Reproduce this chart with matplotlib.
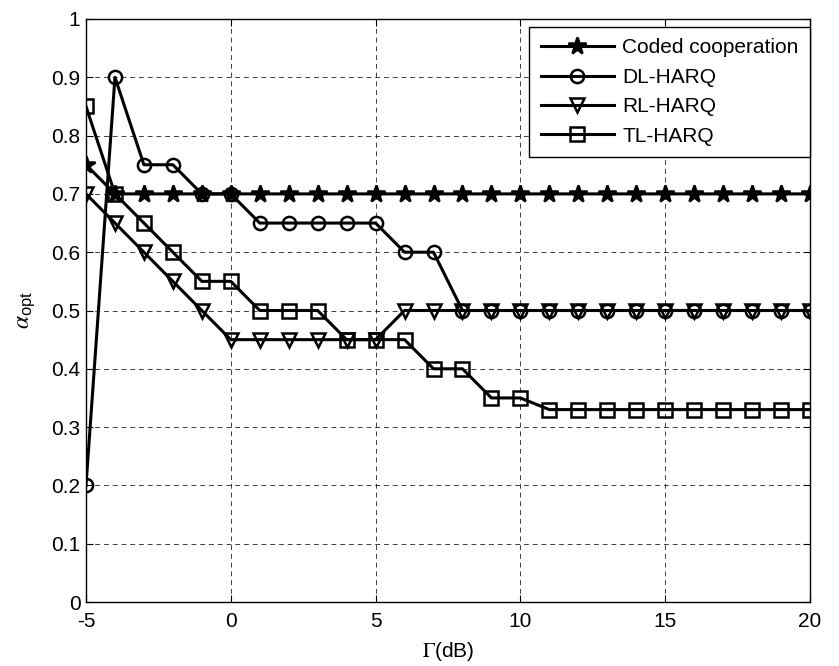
import matplotlib
matplotlib.use("Agg")
import matplotlib.pyplot as plt

x = list(range(-5, 21))
coded = [0.75] + [0.7] * 25
dl_harq = [0.2, 0.9, 0.75, 0.75, 0.7, 0.7, 0.65, 0.65, 0.65, 0.65, 0.65, 0.6, 0.6] + [0.5] * 13
rl_harq = [0.7, 0.65, 0.6, 0.55, 0.5, 0.45, 0.45, 0.45, 0.45, 0.45, 0.45] + [0.5] * 15
tl_harq = [0.85, 0.7, 0.65, 0.6, 0.55, 0.55, 0.5, 0.5, 0.5, 0.45, 0.45, 0.45, 0.4, 0.4, 0.35, 0.35] + [0.33] * 10
labels = ["Coded cooperation", "DL-HARQ", "RL-HARQ", "TL-HARQ"]
xticks = [-5, 0, 5, 10, 15, 20]
yticks = [0, 0.1, 0.2, 0.3, 0.4, 0.5, 0.6, 0.7, 0.8, 0.9, 1]

plt.rcParams['font.family'] = ['Liberation Sans', 'DejaVu Sans']
plt.rcParams['mathtext.fontset'] = 'stix'

fig = plt.figure(figsize=(8.39, 6.66), dpi=100)
ax = fig.add_axes([86/839, 1 - 602/666, (810 - 86)/839, (602 - 19)/666])

lw = 2.2
common = dict(color='black', linewidth=lw, markeredgewidth=1.8, markeredgecolor='black')
ax.plot(x, coded, marker='*', markersize=13, markerfacecolor='black', label=labels[0], **common)
ax.plot(x, dl_harq, marker='o', markersize=9.5, markerfacecolor='none', label=labels[1], **common)
ax.plot(x, rl_harq, marker='v', markersize=10.5, markerfacecolor='none', label=labels[2], **common)
ax.plot(x, tl_harq, marker='s', markersize=9.5, markerfacecolor='none', label=labels[3], **common)

ax.set_xlim(-5, 20)
ax.set_ylim(0, 1)
ax.set_xticks(xticks)
ax.set_xticklabels([str(v) for v in xticks])
ax.set_yticks(yticks)
ax.set_yticklabels(['0', '0.1', '0.2', '0.3', '0.4', '0.5', '0.6', '0.7', '0.8', '0.9', '1'])
ax.tick_params(direction='in', top=True, right=True, labelsize=15, length=5, width=0.8)
ax.tick_params(axis='x', pad=7)
ax.tick_params(axis='y', pad=4)
ax.grid(True, color='black', linestyle=(0, (5, 4)), linewidth=0.7, alpha=0.75)
for s in ax.spines.values():
    s.set_linewidth(1.0)

ax.set_xlabel(r'$\Gamma$(dB)', fontsize=15, labelpad=7)
ax.set_ylabel(r'$\alpha_{\mathregular{opt}}$', fontsize=17, labelpad=10)

leg = ax.legend(loc='upper right', bbox_to_anchor=(1, 1 - 8/583), fontsize=15, frameon=True,
                fancybox=False, edgecolor='black', framealpha=1, borderaxespad=0,
                handlelength=3.5, handletextpad=0.4, labelspacing=0.5, borderpad=0.55)
leg.get_frame().set_linewidth(1.0)

fig.savefig('out.png', dpi=100)
